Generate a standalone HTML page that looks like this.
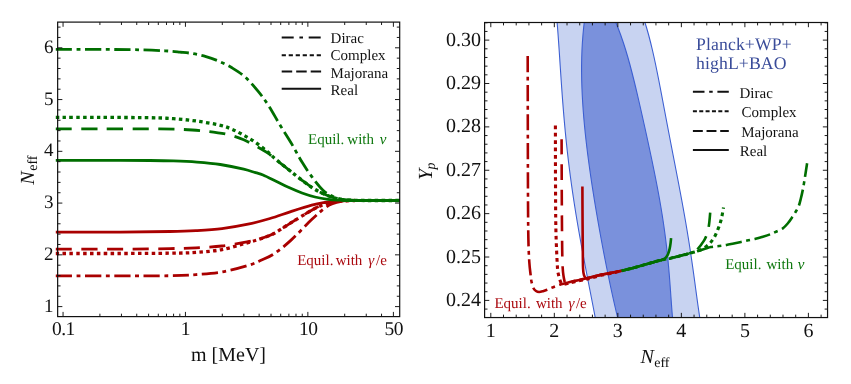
<!DOCTYPE html>
<html><head><meta charset="utf-8"><title>Neff</title>
<style>
html,body{margin:0;padding:0;background:#fff;}
body{width:851px;height:384px;overflow:hidden;}
svg{display:block;will-change:transform;}
text{font-family:"Liberation Serif",serif;text-rendering:geometricPrecision;}
</style></head><body>
<svg width="851" height="384" viewBox="0 0 851 384">
<rect x="0" y="0" width="851" height="384" fill="#fff"/>

<g>
<path d="M55.80,275.90 C66.50,275.90 100.97,275.93 120.00,275.90 C139.03,275.87 157.33,275.92 170.00,275.70 C182.67,275.48 187.33,275.22 196.00,274.60 C204.67,273.98 213.33,273.52 222.00,272.00 C230.67,270.48 241.50,267.45 248.00,265.50 C254.50,263.55 256.67,262.25 261.00,260.30 C265.33,258.35 269.03,257.12 274.00,253.80 C278.97,250.48 284.52,246.10 290.80,240.40 C297.08,234.70 306.13,224.90 311.70,219.60 C317.27,214.30 320.73,211.23 324.20,208.60 C327.67,205.97 329.37,205.03 332.50,203.80 C335.63,202.57 339.25,201.75 343.00,201.20 C346.75,200.65 353.00,200.62 355.00,200.50" fill="none" stroke="#a90000" stroke-width="2.8" stroke-linejoin="round" stroke-dasharray="16.3 4.5 3.9 4.5"/>
<path d="M55.80,253.50 C66.50,253.50 100.97,253.55 120.00,253.50 C139.03,253.45 157.33,253.38 170.00,253.20 C182.67,253.02 187.33,253.00 196.00,252.40 C204.67,251.80 213.33,251.23 222.00,249.60 C230.67,247.97 241.50,244.42 248.00,242.60 C254.50,240.78 256.67,240.22 261.00,238.70 C265.33,237.18 269.03,236.13 274.00,233.50 C278.97,230.87 284.52,226.78 290.80,222.90 C297.08,219.02 306.50,213.15 311.70,210.20 C316.90,207.25 318.62,206.52 322.00,205.20 C325.38,203.88 328.50,203.02 332.00,202.30 C335.50,201.58 339.17,201.20 343.00,200.90 C346.83,200.60 353.00,200.57 355.00,200.50" fill="none" stroke="#a90000" stroke-width="3.3" stroke-linejoin="round" stroke-dasharray="3.5 3.34"/>
<path d="M55.80,249.10 C66.50,249.10 100.97,249.18 120.00,249.10 C139.03,249.02 157.33,248.82 170.00,248.60 C182.67,248.38 187.33,248.23 196.00,247.80 C204.67,247.37 213.33,247.03 222.00,246.00 C230.67,244.97 241.50,242.85 248.00,241.60 C254.50,240.35 256.67,239.85 261.00,238.50 C265.33,237.15 269.03,236.10 274.00,233.50 C278.97,230.90 284.52,226.78 290.80,222.90 C297.08,219.02 306.50,213.15 311.70,210.20 C316.90,207.25 318.62,206.52 322.00,205.20 C325.38,203.88 328.50,203.02 332.00,202.30 C335.50,201.58 339.17,201.20 343.00,200.90 C346.83,200.60 353.00,200.57 355.00,200.50" fill="none" stroke="#a90000" stroke-width="2.8" stroke-linejoin="round" stroke-dasharray="16.1 9.5"/>
<path d="M55.80,232.10 C66.50,232.10 100.97,232.20 120.00,232.10 C139.03,232.00 157.33,231.75 170.00,231.50 C182.67,231.25 187.33,231.08 196.00,230.60 C204.67,230.12 213.33,229.67 222.00,228.60 C230.67,227.53 240.00,225.88 248.00,224.20 C256.00,222.52 262.87,220.60 270.00,218.50 C277.13,216.40 283.85,213.82 290.80,211.60 C297.75,209.38 306.00,206.72 311.70,205.20 C317.40,203.68 321.12,203.15 325.00,202.50 C328.88,201.85 331.00,201.62 335.00,201.30 C339.00,200.98 344.00,200.73 349.00,200.60 C354.00,200.47 362.33,200.52 365.00,200.50" fill="none" stroke="#a90000" stroke-width="2.8" stroke-linejoin="round"/>
<path d="M55.80,49.30 C63.17,49.32 85.97,49.32 100.00,49.40 C114.03,49.48 129.17,49.57 140.00,49.80 C150.83,50.03 158.33,50.42 165.00,50.80 C171.67,51.18 175.33,51.63 180.00,52.10 C184.67,52.57 188.67,52.85 193.00,53.60 C197.33,54.35 201.67,55.32 206.00,56.60 C210.33,57.88 214.67,59.43 219.00,61.30 C223.33,63.17 227.67,65.20 232.00,67.80 C236.33,70.40 240.67,73.00 245.00,76.90 C249.33,80.80 254.08,86.43 258.00,91.20 C261.92,95.97 264.83,99.87 268.50,105.50 C272.17,111.13 276.13,118.60 280.00,125.00 C283.87,131.40 288.03,137.72 291.70,143.90 C295.37,150.08 298.53,156.47 302.00,162.10 C305.47,167.73 309.00,173.02 312.50,177.70 C316.00,182.38 319.58,187.05 323.00,190.20 C326.42,193.35 329.83,195.08 333.00,196.60 C336.17,198.12 339.17,198.70 342.00,199.30 C344.83,199.90 346.17,200.00 350.00,200.20 C353.83,200.40 356.67,200.45 365.00,200.50 C373.33,200.55 394.17,200.50 400.00,200.50" fill="none" stroke="#006e00" stroke-width="2.8" stroke-linejoin="round" stroke-dasharray="16.3 4.5 3.9 4.5"/>
<path d="M55.80,117.40 C63.17,117.40 84.30,117.35 100.00,117.40 C115.70,117.45 137.77,117.48 150.00,117.70 C162.23,117.92 165.58,118.13 173.40,118.70 C181.22,119.27 189.08,120.00 196.90,121.10 C204.72,122.20 214.45,123.93 220.30,125.30 C226.15,126.67 228.10,127.65 232.00,129.30 C235.90,130.95 239.78,133.02 243.70,135.20 C247.62,137.38 251.58,139.67 255.50,142.40 C259.42,145.13 263.78,148.75 267.20,151.60 C270.62,154.45 272.37,156.43 276.00,159.50 C279.63,162.57 284.67,166.53 289.00,170.00 C293.33,173.47 297.67,177.07 302.00,180.30 C306.33,183.53 310.67,186.82 315.00,189.40 C319.33,191.98 323.83,194.17 328.00,195.80 C332.17,197.43 336.33,198.47 340.00,199.20 C343.67,199.93 345.83,199.98 350.00,200.20 C354.17,200.42 356.67,200.45 365.00,200.50 C373.33,200.55 394.17,200.50 400.00,200.50" fill="none" stroke="#006e00" stroke-width="3.3" stroke-linejoin="round" stroke-dasharray="3.5 3.34"/>
<path d="M55.80,128.80 C63.17,128.80 82.73,128.78 100.00,128.80 C117.27,128.82 144.03,128.70 159.40,128.90 C174.77,129.10 182.43,129.35 192.20,130.00 C201.97,130.65 211.37,131.87 218.00,132.80 C224.63,133.73 227.72,134.43 232.00,135.60 C236.28,136.77 239.78,138.12 243.70,139.80 C247.62,141.48 251.58,143.55 255.50,145.70 C259.42,147.85 263.78,150.37 267.20,152.70 C270.62,155.03 272.37,156.82 276.00,159.70 C279.63,162.58 284.67,166.57 289.00,170.00 C293.33,173.43 297.67,177.07 302.00,180.30 C306.33,183.53 310.67,186.82 315.00,189.40 C319.33,191.98 323.83,194.17 328.00,195.80 C332.17,197.43 336.33,198.47 340.00,199.20 C343.67,199.93 345.83,199.98 350.00,200.20 C354.17,200.42 356.67,200.45 365.00,200.50 C373.33,200.55 394.17,200.50 400.00,200.50" fill="none" stroke="#006e00" stroke-width="2.8" stroke-linejoin="round" stroke-dasharray="16.1 9.5"/>
<path d="M55.80,160.30 C63.17,160.30 84.30,160.27 100.00,160.30 C115.70,160.33 137.77,160.40 150.00,160.50 C162.23,160.60 165.58,160.63 173.40,160.90 C181.22,161.17 189.08,161.50 196.90,162.10 C204.72,162.70 212.50,163.33 220.30,164.50 C228.10,165.67 237.83,167.73 243.70,169.10 C249.57,170.47 252.28,171.72 255.50,172.70 C258.72,173.68 259.58,173.58 263.00,175.00 C266.42,176.42 271.67,179.10 276.00,181.20 C280.33,183.30 284.67,185.63 289.00,187.60 C293.33,189.57 297.67,191.43 302.00,193.00 C306.33,194.57 310.67,195.95 315.00,197.00 C319.33,198.05 323.83,198.77 328.00,199.30 C332.17,199.83 336.33,200.00 340.00,200.20 C343.67,200.40 340.00,200.45 350.00,200.50 C360.00,200.55 391.67,200.50 400.00,200.50" fill="none" stroke="#006e00" stroke-width="2.8" stroke-linejoin="round"/>
</g>
<g stroke="#111" stroke-width="0.95" fill="none"><path d="M57.65,306.60 h4.70 M399.70,306.60 h-4.70"/><path d="M57.65,296.25 h2.90 M399.70,296.25 h-2.90"/><path d="M57.65,285.90 h2.90 M399.70,285.90 h-2.90"/><path d="M57.65,275.54 h2.90 M399.70,275.54 h-2.90"/><path d="M57.65,265.19 h2.90 M399.70,265.19 h-2.90"/><path d="M57.65,254.84 h4.70 M399.70,254.84 h-4.70"/><path d="M57.65,244.49 h2.90 M399.70,244.49 h-2.90"/><path d="M57.65,234.14 h2.90 M399.70,234.14 h-2.90"/><path d="M57.65,223.78 h2.90 M399.70,223.78 h-2.90"/><path d="M57.65,213.43 h2.90 M399.70,213.43 h-2.90"/><path d="M57.65,203.08 h4.70 M399.70,203.08 h-4.70"/><path d="M57.65,192.73 h2.90 M399.70,192.73 h-2.90"/><path d="M57.65,182.38 h2.90 M399.70,182.38 h-2.90"/><path d="M57.65,172.02 h2.90 M399.70,172.02 h-2.90"/><path d="M57.65,161.67 h2.90 M399.70,161.67 h-2.90"/><path d="M57.65,151.32 h4.70 M399.70,151.32 h-4.70"/><path d="M57.65,140.97 h2.90 M399.70,140.97 h-2.90"/><path d="M57.65,130.62 h2.90 M399.70,130.62 h-2.90"/><path d="M57.65,120.26 h2.90 M399.70,120.26 h-2.90"/><path d="M57.65,109.91 h2.90 M399.70,109.91 h-2.90"/><path d="M57.65,99.56 h4.70 M399.70,99.56 h-4.70"/><path d="M57.65,89.21 h2.90 M399.70,89.21 h-2.90"/><path d="M57.65,78.86 h2.90 M399.70,78.86 h-2.90"/><path d="M57.65,68.50 h2.90 M399.70,68.50 h-2.90"/><path d="M57.65,58.15 h2.90 M399.70,58.15 h-2.90"/><path d="M57.65,47.80 h4.70 M399.70,47.80 h-4.70"/><path d="M57.65,37.45 h2.90 M399.70,37.45 h-2.90"/><path d="M57.65,27.10 h2.90 M399.70,27.10 h-2.90"/><path d="M63.05,316.60 v-4.70 M63.05,22.10 v4.70"/><path d="M185.45,316.60 v-4.70 M185.45,22.10 v4.70"/><path d="M307.85,316.60 v-4.70 M307.85,22.10 v4.70"/><path d="M393.40,316.60 v-4.70 M393.40,22.10 v4.70"/><path d="M99.90,316.60 v-2.90 M99.90,22.10 v2.90"/><path d="M121.45,316.60 v-2.90 M121.45,22.10 v2.90"/><path d="M136.74,316.60 v-2.90 M136.74,22.10 v2.90"/><path d="M148.60,316.60 v-2.90 M148.60,22.10 v2.90"/><path d="M158.30,316.60 v-2.90 M158.30,22.10 v2.90"/><path d="M166.49,316.60 v-2.90 M166.49,22.10 v2.90"/><path d="M173.59,316.60 v-2.90 M173.59,22.10 v2.90"/><path d="M179.85,316.60 v-2.90 M179.85,22.10 v2.90"/><path d="M222.30,316.60 v-2.90 M222.30,22.10 v2.90"/><path d="M243.85,316.60 v-2.90 M243.85,22.10 v2.90"/><path d="M259.14,316.60 v-2.90 M259.14,22.10 v2.90"/><path d="M271.00,316.60 v-2.90 M271.00,22.10 v2.90"/><path d="M280.70,316.60 v-2.90 M280.70,22.10 v2.90"/><path d="M288.89,316.60 v-2.90 M288.89,22.10 v2.90"/><path d="M295.99,316.60 v-2.90 M295.99,22.10 v2.90"/><path d="M302.25,316.60 v-2.90 M302.25,22.10 v2.90"/><path d="M344.70,316.60 v-2.90 M344.70,22.10 v2.90"/><path d="M366.25,316.60 v-2.90 M366.25,22.10 v2.90"/><path d="M381.54,316.60 v-2.90 M381.54,22.10 v2.90"/></g>
<rect x="57.65" y="22.10" width="342.05" height="294.50" fill="none" stroke="#111" stroke-width="1.2"/>
<g fill="#111">
<text x="53.5" y="311.60" font-size="19px" text-anchor="end">1</text>
<text x="53.5" y="259.84" font-size="19px" text-anchor="end">2</text>
<text x="53.5" y="208.08" font-size="19px" text-anchor="end">3</text>
<text x="53.5" y="156.32" font-size="19px" text-anchor="end">4</text>
<text x="53.5" y="104.56" font-size="19px" text-anchor="end">5</text>
<text x="53.5" y="52.80" font-size="19px" text-anchor="end">6</text>
<text x="63.40" y="334.6" font-size="19.5px" text-anchor="middle" letter-spacing="-0.5">0.1</text>
<text x="185.55" y="334.6" font-size="19.5px" text-anchor="middle">1</text>
<text x="308.20" y="334.6" font-size="19.5px" text-anchor="middle" letter-spacing="-0.5">10</text>
<text x="393.75" y="334.6" font-size="19.5px" text-anchor="middle" letter-spacing="-0.5">50</text>
</g>
<text x="191" y="360.5" font-size="20px" fill="#111">m [MeV]</text>
<g transform="translate(34,184.8) rotate(-90)" fill="#111"><text x="0" y="0" font-size="20px" font-style="italic">N</text><text x="14" y="3.3" font-size="14px">eff</text></g>
<g stroke="#111" stroke-width="2" fill="none"><path d="M281.70,37.60 H321.10" stroke-dasharray="12 5.7 3.6 5.7"/><path d="M281.70,55.20 H321.10" stroke-dasharray="4.2 2.8"/><path d="M281.70,71.60 H321.10" stroke-dasharray="10.5 4"/><path d="M281.70,88.70 H321.10"/></g><g font-size="15px" fill="#111"><text x="330.60" y="42.70">Dirac</text><text x="330.60" y="60.00">Complex</text><text x="330.60" y="77.50">Majorana</text><text x="330.60" y="94.60">Real</text></g>
<g font-size="15px" fill="#0f780f"><text x="308" y="144">Equil.</text><text x="347.3" y="144">with</text><text x="379.7" y="144" font-style="italic">ν</text></g>
<g font-size="15px" fill="#ab0a10"><text x="297.2" y="265.2">Equil.</text><text x="335.7" y="265.2">with</text><text x="368.3" y="265.2" font-style="italic">γ</text><text x="376.1" y="265.2">/e</text></g>
<defs><clipPath id="cp2"><rect x="484.60" y="22.50" width="342.95" height="295.05"/></clipPath></defs>
<g clip-path="url(#cp2)">
<path d="M556.92,20.00 L557.53,27.50 L558.10,35.00 L558.63,42.50 L559.15,50.00 L559.65,57.50 L560.14,65.00 L560.64,72.50 L561.15,80.00 L561.67,87.50 L562.21,95.00 L562.77,102.50 L563.37,110.00 L563.99,117.50 L564.66,125.00 L565.36,132.50 L566.10,140.00 L566.89,147.50 L567.73,155.00 L568.61,162.50 L569.54,170.00 L570.52,177.50 L571.54,185.00 L572.62,192.50 L573.73,200.00 L574.90,207.50 L576.10,215.00 L577.35,222.50 L578.63,230.00 L579.96,237.50 L581.31,245.00 L582.69,252.50 L584.10,260.00 L585.53,267.50 L586.97,275.00 L588.43,282.50 L589.89,290.00 L591.36,297.50 L592.82,305.00 L594.27,312.50 L595.71,320.00 L700.12,320.00 L698.99,312.50 L697.91,305.00 L696.87,297.50 L695.85,290.00 L694.84,282.50 L693.81,275.00 L692.76,267.50 L691.68,260.00 L690.57,252.50 L689.42,245.00 L688.23,237.50 L687.00,230.00 L685.73,222.50 L684.42,215.00 L683.08,207.50 L681.71,200.00 L680.31,192.50 L678.89,185.00 L677.45,177.50 L676.00,170.00 L674.55,162.50 L673.09,155.00 L671.64,147.50 L670.19,140.00 L668.75,132.50 L667.32,125.00 L665.89,117.50 L664.47,110.00 L663.05,102.50 L661.63,95.00 L660.20,87.50 L658.74,80.00 L657.25,72.50 L655.71,65.00 L654.10,57.50 L652.41,50.00 L650.59,42.50 L648.64,35.00 L646.51,27.50 L644.16,20.00 Z" fill="#c8d3f1" stroke="#3c5fd2" stroke-width="1.1" stroke-linejoin="round"/>
<path d="M584.55,20.00 L583.66,27.50 L582.95,35.00 L582.39,42.50 L581.98,50.00 L581.72,57.50 L581.58,65.00 L581.58,72.50 L581.69,80.00 L581.91,87.50 L582.24,95.00 L582.66,102.50 L583.17,110.00 L583.76,117.50 L584.44,125.00 L585.18,132.50 L585.99,140.00 L586.87,147.50 L587.80,155.00 L588.79,162.50 L589.82,170.00 L590.90,177.50 L592.02,185.00 L593.19,192.50 L594.38,200.00 L595.62,207.50 L596.89,215.00 L598.19,222.50 L599.52,230.00 L600.88,237.50 L602.27,245.00 L603.69,252.50 L605.15,260.00 L606.63,267.50 L608.16,275.00 L609.71,282.50 L611.31,290.00 L612.95,297.50 L614.64,305.00 L616.38,312.50 L618.17,320.00 L672.71,320.00 L672.08,312.50 L671.51,305.00 L670.97,297.50 L670.44,290.00 L669.88,282.50 L669.30,275.00 L668.66,267.50 L667.96,260.00 L667.19,252.50 L666.35,245.00 L665.43,237.50 L664.43,230.00 L663.35,222.50 L662.20,215.00 L660.97,207.50 L659.68,200.00 L658.32,192.50 L656.90,185.00 L655.44,177.50 L653.93,170.00 L652.39,162.50 L650.81,155.00 L649.21,147.50 L647.59,140.00 L645.95,132.50 L644.29,125.00 L642.62,117.50 L640.93,110.00 L639.22,102.50 L637.48,95.00 L635.70,87.50 L633.87,80.00 L631.97,72.50 L630.00,65.00 L627.91,57.50 L625.69,50.00 L623.30,42.50 L620.71,35.00 L617.89,27.50 L614.77,20.00 Z" fill="#7a91dc" stroke="#3c5fd2" stroke-width="1.1" stroke-linejoin="round"/>
</g>
<g>
<path d="M527.70,56.10 C527.72,66.75 527.75,96.02 527.80,120.00 C527.85,143.98 527.90,180.00 528.00,200.00 C528.10,220.00 528.18,229.67 528.40,240.00 C528.62,250.33 528.93,256.22 529.30,262.00 C529.67,267.78 530.23,271.42 530.60,274.70 C530.97,277.98 531.02,279.45 531.50,281.70 C531.98,283.95 532.75,286.65 533.50,288.20 C534.25,289.75 535.07,290.37 536.00,291.00 C536.93,291.63 537.93,291.97 539.10,292.00 C540.27,292.03 541.67,291.58 543.00,291.20 C544.33,290.82 545.40,290.37 547.10,289.70 C548.80,289.03 551.17,288.00 553.20,287.20 C555.23,286.40 557.97,285.38 559.30,284.90 C560.63,284.42 559.87,284.67 561.20,284.30 C562.53,283.93 565.83,283.10 567.30,282.70 C568.77,282.30 568.17,282.32 570.00,281.90 C571.83,281.48 575.70,280.75 578.30,280.20 C580.90,279.65 583.52,279.08 585.60,278.60 C587.68,278.12 588.19,277.93 590.80,277.30 C593.41,276.68 598.05,275.54 601.25,274.85 C604.45,274.16 606.59,273.82 610.00,273.15 C613.41,272.47 619.75,271.19 621.70,270.80" fill="none" stroke="#a90000" stroke-width="2.6" stroke-linejoin="round" stroke-dasharray="16.2 4.5 3.8 4.5"/>
<path d="M555.40,125.60 C555.42,134.67 555.42,162.60 555.50,180.00 C555.58,197.40 555.58,215.55 555.90,230.00 C556.22,244.45 556.98,259.33 557.40,266.70 C557.82,274.07 557.97,271.93 558.40,274.20 C558.83,276.47 559.47,278.77 560.00,280.30 C560.53,281.83 560.97,282.75 561.60,283.40 C562.23,284.05 562.85,284.18 563.80,284.20 C564.75,284.22 566.27,283.75 567.30,283.50 C568.33,283.25 568.17,283.12 570.00,282.70 C571.83,282.28 575.70,281.55 578.30,281.00 C580.90,280.45 583.52,279.88 585.60,279.40 C587.68,278.92 588.19,278.79 590.80,278.10 C593.41,277.41 598.05,276.01 601.25,275.25 C604.45,274.49 606.59,274.29 610.00,273.55 C613.41,272.81 619.75,271.26 621.70,270.80" fill="none" stroke="#a90000" stroke-width="3.1" stroke-linejoin="round" stroke-dasharray="3.7 3.65"/>
<path d="M561.60,139.30 C561.63,149.42 561.70,181.55 561.80,200.00 C561.90,218.45 562.05,238.67 562.20,250.00 C562.35,261.33 562.47,263.58 562.70,268.00 C562.93,272.42 563.23,274.00 563.60,276.50 C563.97,279.00 564.68,281.92 564.90,283.00 C565.30,282.95 566.45,282.88 567.30,282.70 C568.15,282.52 568.17,282.32 570.00,281.90 C571.83,281.48 575.70,280.75 578.30,280.20 C580.90,279.65 583.52,279.08 585.60,278.60 C587.68,278.12 588.19,277.93 590.80,277.30 C593.41,276.68 598.05,275.54 601.25,274.85 C604.45,274.16 606.59,273.82 610.00,273.15 C613.41,272.47 619.75,271.19 621.70,270.80" fill="none" stroke="#a90000" stroke-width="2.6" stroke-linejoin="round" stroke-dasharray="15.8 9.7" stroke-dashoffset="0.6"/>
<path d="M582.40,186.50 C582.42,190.42 582.45,201.08 582.50,210.00 C582.55,218.92 582.63,231.33 582.70,240.00 C582.77,248.67 582.83,257.17 582.90,262.00 C582.97,266.83 582.98,267.07 583.10,269.00 C583.22,270.93 583.35,272.33 583.60,273.60 C583.85,274.87 584.17,275.83 584.60,276.60 C585.03,277.37 585.57,277.98 586.20,278.20 C586.83,278.42 587.63,278.05 588.40,277.90 C589.17,277.75 588.66,277.81 590.80,277.30 C592.94,276.79 598.05,275.54 601.25,274.85 C604.45,274.16 606.59,273.82 610.00,273.15 C613.41,272.47 619.75,271.19 621.70,270.80" fill="none" stroke="#a90000" stroke-width="2.6" stroke-linejoin="round"/>
<path d="M807.10,163.30 C806.75,165.57 805.52,173.60 805.00,176.90 C804.48,180.20 804.35,181.02 804.00,183.10 C803.65,185.18 803.43,186.79 802.90,189.40 C802.37,192.01 801.49,195.98 800.80,198.75 C800.11,201.52 799.55,203.92 798.75,206.00 C797.95,208.08 797.04,209.45 796.00,211.25 C794.96,213.05 793.88,214.76 792.50,216.80 C791.12,218.84 789.37,221.53 787.70,223.50 C786.03,225.47 784.58,227.17 782.50,228.60 C780.42,230.03 777.28,231.13 775.20,232.10 C773.12,233.07 772.25,233.58 770.00,234.40 C767.75,235.22 764.10,236.28 761.70,237.00 C759.30,237.72 757.83,238.20 755.60,238.75 C753.37,239.30 750.73,239.78 748.30,240.30 C745.87,240.83 743.42,241.38 741.00,241.90 C738.58,242.42 736.17,242.88 733.75,243.40 C731.33,243.92 728.92,244.57 726.50,245.00 C724.08,245.43 721.82,245.65 719.20,246.00 C716.58,246.35 714.28,246.28 710.80,247.10 C707.32,247.92 701.32,250.00 698.30,250.90 C695.28,251.80 694.28,252.05 692.70,252.50 C691.12,252.95 690.85,253.05 688.80,253.60 C686.75,254.15 683.53,255.00 680.40,255.80 C677.27,256.60 672.82,257.77 670.00,258.40 C667.18,259.03 666.00,259.05 663.50,259.60 C661.00,260.15 658.08,260.87 655.00,261.70 C651.92,262.53 647.92,263.77 645.00,264.60 C642.08,265.43 640.00,265.99 637.50,266.70 C635.00,267.41 632.63,268.17 630.00,268.85 C627.37,269.53 623.08,270.48 621.70,270.80" fill="none" stroke="#006e00" stroke-width="2.6" stroke-linejoin="round" stroke-dasharray="16.3 4.55 3.9 4.55" stroke-dashoffset="2.6"/>
<path d="M723.50,207.40 C723.22,208.98 722.35,214.28 721.80,216.90 C721.25,219.52 720.85,221.02 720.20,223.10 C719.55,225.18 718.77,227.25 717.90,229.40 C717.03,231.55 716.07,234.00 715.00,236.00 C713.93,238.00 712.67,239.90 711.50,241.40 C710.33,242.90 709.25,243.90 708.00,245.00 C706.75,246.10 705.50,247.07 704.00,248.00 C702.50,248.93 701.53,249.67 699.00,250.60 C696.47,251.53 691.90,252.73 688.80,253.60 C685.70,254.47 683.53,255.00 680.40,255.80 C677.27,256.60 672.82,257.77 670.00,258.40 C667.18,259.03 666.00,259.05 663.50,259.60 C661.00,260.15 658.08,260.87 655.00,261.70 C651.92,262.53 647.92,263.77 645.00,264.60 C642.08,265.43 640.00,265.99 637.50,266.70 C635.00,267.41 632.63,268.17 630.00,268.85 C627.37,269.53 623.08,270.48 621.70,270.80" fill="none" stroke="#006e00" stroke-width="3.1" stroke-linejoin="round" stroke-dasharray="3.7 3.65" stroke-dashoffset="2.3"/>
<path d="M710.20,212.70 C710.08,214.00 709.78,217.95 709.50,220.50 C709.22,223.05 708.95,225.65 708.50,228.00 C708.05,230.35 707.45,232.67 706.80,234.60 C706.15,236.53 705.48,238.00 704.60,239.60 C703.72,241.20 702.52,242.80 701.50,244.20 C700.48,245.60 699.42,246.93 698.50,248.00 C697.58,249.07 696.78,249.93 696.00,250.60 C695.22,251.27 695.00,251.50 693.80,252.00 C692.60,252.50 691.03,252.97 688.80,253.60 C686.57,254.23 683.53,255.00 680.40,255.80 C677.27,256.60 672.82,257.77 670.00,258.40 C667.18,259.03 666.00,259.05 663.50,259.60 C661.00,260.15 658.08,260.87 655.00,261.70 C651.92,262.53 647.92,263.77 645.00,264.60 C642.08,265.43 640.00,265.99 637.50,266.70 C635.00,267.41 632.63,268.17 630.00,268.85 C627.37,269.53 623.08,270.48 621.70,270.80" fill="none" stroke="#006e00" stroke-width="2.6" stroke-linejoin="round" stroke-dasharray="15.8 9.7" stroke-dashoffset="1.6"/>
<path d="M671.10,238.10 C671.03,238.75 670.85,240.73 670.70,242.00 C670.55,243.27 670.45,244.27 670.20,245.70 C669.95,247.13 669.60,249.12 669.20,250.60 C668.80,252.08 668.33,253.48 667.80,254.60 C667.27,255.72 666.70,256.53 666.00,257.30 C665.30,258.07 664.52,258.70 663.60,259.20 C662.68,259.70 661.93,259.88 660.50,260.30 C659.07,260.72 657.58,260.98 655.00,261.70 C652.42,262.42 647.92,263.77 645.00,264.60 C642.08,265.43 640.00,265.99 637.50,266.70 C635.00,267.41 632.63,268.17 630.00,268.85 C627.37,269.53 623.08,270.48 621.70,270.80" fill="none" stroke="#006e00" stroke-width="2.6" stroke-linejoin="round"/>
</g>
<g stroke="#111" stroke-width="0.95" fill="none"><path d="M484.60,309.08 h2.90 M827.55,309.08 h-2.90"/><path d="M484.60,300.40 h4.70 M827.55,300.40 h-4.70"/><path d="M484.60,291.72 h2.90 M827.55,291.72 h-2.90"/><path d="M484.60,283.05 h2.90 M827.55,283.05 h-2.90"/><path d="M484.60,274.37 h2.90 M827.55,274.37 h-2.90"/><path d="M484.60,265.70 h2.90 M827.55,265.70 h-2.90"/><path d="M484.60,257.02 h4.70 M827.55,257.02 h-4.70"/><path d="M484.60,248.34 h2.90 M827.55,248.34 h-2.90"/><path d="M484.60,239.67 h2.90 M827.55,239.67 h-2.90"/><path d="M484.60,230.99 h2.90 M827.55,230.99 h-2.90"/><path d="M484.60,222.32 h2.90 M827.55,222.32 h-2.90"/><path d="M484.60,213.64 h4.70 M827.55,213.64 h-4.70"/><path d="M484.60,204.96 h2.90 M827.55,204.96 h-2.90"/><path d="M484.60,196.29 h2.90 M827.55,196.29 h-2.90"/><path d="M484.60,187.61 h2.90 M827.55,187.61 h-2.90"/><path d="M484.60,178.94 h2.90 M827.55,178.94 h-2.90"/><path d="M484.60,170.26 h4.70 M827.55,170.26 h-4.70"/><path d="M484.60,161.58 h2.90 M827.55,161.58 h-2.90"/><path d="M484.60,152.91 h2.90 M827.55,152.91 h-2.90"/><path d="M484.60,144.23 h2.90 M827.55,144.23 h-2.90"/><path d="M484.60,135.56 h2.90 M827.55,135.56 h-2.90"/><path d="M484.60,126.88 h4.70 M827.55,126.88 h-4.70"/><path d="M484.60,118.20 h2.90 M827.55,118.20 h-2.90"/><path d="M484.60,109.53 h2.90 M827.55,109.53 h-2.90"/><path d="M484.60,100.85 h2.90 M827.55,100.85 h-2.90"/><path d="M484.60,92.18 h2.90 M827.55,92.18 h-2.90"/><path d="M484.60,83.50 h4.70 M827.55,83.50 h-4.70"/><path d="M484.60,74.82 h2.90 M827.55,74.82 h-2.90"/><path d="M484.60,66.15 h2.90 M827.55,66.15 h-2.90"/><path d="M484.60,57.47 h2.90 M827.55,57.47 h-2.90"/><path d="M484.60,48.80 h2.90 M827.55,48.80 h-2.90"/><path d="M484.60,40.12 h4.70 M827.55,40.12 h-4.70"/><path d="M484.60,31.44 h2.90 M827.55,31.44 h-2.90"/><path d="M484.60,22.77 h2.90 M827.55,22.77 h-2.90"/><path d="M490.80,317.55 v-4.70 M490.80,22.50 v4.70"/><path d="M503.50,317.55 v-2.90 M503.50,22.50 v2.90"/><path d="M516.21,317.55 v-2.90 M516.21,22.50 v2.90"/><path d="M528.91,317.55 v-2.90 M528.91,22.50 v2.90"/><path d="M541.62,317.55 v-2.90 M541.62,22.50 v2.90"/><path d="M554.32,317.55 v-4.70 M554.32,22.50 v4.70"/><path d="M567.02,317.55 v-2.90 M567.02,22.50 v2.90"/><path d="M579.73,317.55 v-2.90 M579.73,22.50 v2.90"/><path d="M592.43,317.55 v-2.90 M592.43,22.50 v2.90"/><path d="M605.14,317.55 v-2.90 M605.14,22.50 v2.90"/><path d="M617.84,317.55 v-4.70 M617.84,22.50 v4.70"/><path d="M630.54,317.55 v-2.90 M630.54,22.50 v2.90"/><path d="M643.25,317.55 v-2.90 M643.25,22.50 v2.90"/><path d="M655.95,317.55 v-2.90 M655.95,22.50 v2.90"/><path d="M668.66,317.55 v-2.90 M668.66,22.50 v2.90"/><path d="M681.36,317.55 v-4.70 M681.36,22.50 v4.70"/><path d="M694.06,317.55 v-2.90 M694.06,22.50 v2.90"/><path d="M706.77,317.55 v-2.90 M706.77,22.50 v2.90"/><path d="M719.47,317.55 v-2.90 M719.47,22.50 v2.90"/><path d="M732.18,317.55 v-2.90 M732.18,22.50 v2.90"/><path d="M744.88,317.55 v-4.70 M744.88,22.50 v4.70"/><path d="M757.58,317.55 v-2.90 M757.58,22.50 v2.90"/><path d="M770.29,317.55 v-2.90 M770.29,22.50 v2.90"/><path d="M782.99,317.55 v-2.90 M782.99,22.50 v2.90"/><path d="M795.70,317.55 v-2.90 M795.70,22.50 v2.90"/><path d="M808.40,317.55 v-4.70 M808.40,22.50 v4.70"/><path d="M821.10,317.55 v-2.90 M821.10,22.50 v2.90"/></g>
<rect x="484.60" y="22.50" width="342.95" height="295.05" fill="none" stroke="#111" stroke-width="1.2"/>
<g font-size="20px" fill="#111">
<text x="480.9" y="306.00" text-anchor="end">0.24</text>
<text x="480.9" y="262.62" text-anchor="end">0.25</text>
<text x="480.9" y="219.24" text-anchor="end">0.26</text>
<text x="480.9" y="175.86" text-anchor="end">0.27</text>
<text x="480.9" y="132.48" text-anchor="end">0.28</text>
<text x="480.9" y="89.10" text-anchor="end">0.29</text>
<text x="480.9" y="45.72" text-anchor="end">0.30</text>
<text x="490.80" y="336.5" text-anchor="middle">1</text>
<text x="554.32" y="336.5" text-anchor="middle">2</text>
<text x="617.84" y="336.5" text-anchor="middle">3</text>
<text x="681.36" y="336.5" text-anchor="middle">4</text>
<text x="744.88" y="336.5" text-anchor="middle">5</text>
<text x="808.40" y="336.5" text-anchor="middle">6</text>
</g>
<g fill="#111"><text x="640.5" y="363.3" font-size="20px" font-style="italic">N</text><text x="654.2" y="366.6" font-size="14px">eff</text></g>
<g transform="translate(432,180.0) rotate(-90)" fill="#111"><text x="0" y="0" font-size="20px" font-style="italic">Y</text><text x="10.5" y="3.3" font-size="14px" font-style="italic">p</text></g>
<g font-size="17.7px" fill="#3a4c9a" letter-spacing="0.12"><text x="696" y="49.6">Planck+WP+</text><text x="696" y="68.7">highL+BAO</text></g>
<g stroke="#111" stroke-width="2" fill="none"><path d="M692.90,91.70 H728.80" stroke-dasharray="11.6 4.7 3.5 4.7"/><path d="M692.90,111.20 H728.80" stroke-dasharray="4 2.35"/><path d="M692.90,130.90 H728.80" stroke-dasharray="9.9 3.75"/><path d="M692.90,149.90 H728.80"/></g><g font-size="15px" fill="#111"><text x="739.50" y="97.60">Dirac</text><text x="741.60" y="117.00">Complex</text><text x="741.20" y="136.75">Majorana</text><text x="739.80" y="155.75">Real</text></g>
<g font-size="15px" fill="#0f780f"><text x="725.2" y="269">Equil.</text><text x="766.5" y="269">with</text><text x="797.8" y="269" font-style="italic">ν</text></g>
<g font-size="15px" fill="#ab0a10"><text x="494.4" y="307.7">Equil.</text><text x="535.9" y="307.7">with</text><text x="568.4" y="307.7" font-style="italic">γ</text><text x="575.9" y="307.7">/e</text></g>
</svg></body></html>
